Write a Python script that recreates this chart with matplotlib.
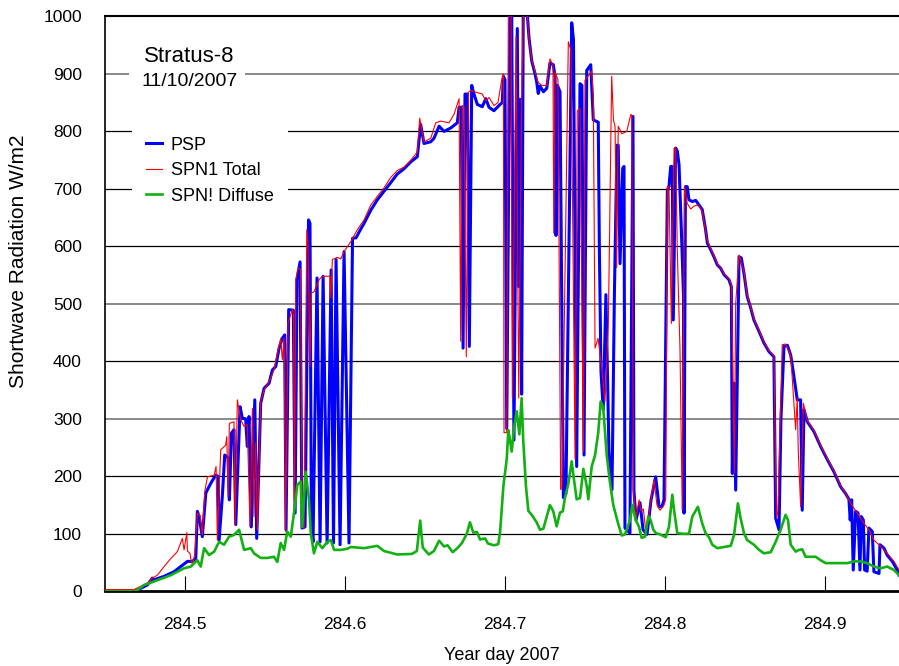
import matplotlib
matplotlib.use('Agg')
import matplotlib.pyplot as plt
from matplotlib.patches import Rectangle

plt.rcParams['font.family'] = ['Liberation Sans', 'DejaVu Sans']

# PSP (blue)
psp_day = [284.4500, 284.4683, 284.4704, 284.4766, 284.4798, 284.4808, 284.4871, 284.4933, 284.4975, 284.5017,
           284.5048, 284.5069, 284.5079, 284.5090, 284.5110, 284.5132, 284.5163, 284.5194, 284.5209, 284.5215,
           284.5235, 284.5250, 284.5271, 284.5279, 284.5292, 284.5308, 284.5319, 284.5346, 284.5360, 284.5381,
           284.5391, 284.5402, 284.5416, 284.5438, 284.5450, 284.5475, 284.5496, 284.5527, 284.5548, 284.5569,
           284.5590, 284.5610, 284.5625, 284.5633, 284.5650, 284.5679, 284.5690, 284.5702, 284.5721, 284.5733,
           284.5752, 284.5774, 284.5783, 284.5792, 284.5802, 284.5827, 284.5846, 284.5865, 284.5890, 284.5915,
           284.5930, 284.5946, 284.5971, 284.5996, 284.6027, 284.6049, 284.6071, 284.6096, 284.6121, 284.6163,
           284.6204, 284.6246, 284.6288, 284.6329, 284.6371, 284.6413, 284.6454, 284.6467, 284.6475, 284.6496,
           284.6538, 284.6558, 284.6590, 284.6621, 284.6663, 284.6704, 284.6715, 284.6729, 284.6740, 284.6752,
           284.6767, 284.6779, 284.6794, 284.6808, 284.6829, 284.6860, 284.6882, 284.6902, 284.6933, 284.6968,
           284.6985, 284.6992, 284.7002, 284.7013, 284.7033, 284.7044, 284.7058, 284.7079, 284.7088, 284.7096,
           284.7106, 284.7116, 284.7141, 284.7152, 284.7169, 284.7190, 284.7200, 284.7210, 284.7221, 284.7242,
           284.7263, 284.7283, 284.7304, 284.7315, 284.7321, 284.7330, 284.7346, 284.7367, 284.7383, 284.7419,
           284.7430, 284.7450, 284.7471, 284.7483, 284.7496, 284.7513, 284.7538, 284.7554, 284.7585, 284.7592,
           284.7602, 284.7616, 284.7633, 284.7652, 284.7671, 284.7686, 284.7702, 284.7710, 284.7721, 284.7738,
           284.7746, 284.7752, 284.7783, 284.7802, 284.7808, 284.7821, 284.7846, 284.7865, 284.7890, 284.7915,
           284.7944, 284.7965, 284.7983, 284.7996, 284.8017, 284.8027, 284.8038, 284.8048, 284.8054, 284.8069,
           284.8079, 284.8090, 284.8108, 284.8118, 284.8121, 284.8130, 284.8141, 284.8152, 284.8173, 284.8194,
           284.8215, 284.8235, 284.8256, 284.8267, 284.8288, 284.8308, 284.8329, 284.8350, 284.8371, 284.8402,
           284.8417, 284.8423, 284.8434, 284.8444, 284.8465, 284.8479, 284.8496, 284.8516, 284.8538, 284.8558,
           284.8590, 284.8621, 284.8652, 284.8683, 284.8694, 284.8715, 284.8727, 284.8746, 284.8767, 284.8788,
           284.8808, 284.8829, 284.8850, 284.8860, 284.8871, 284.8892, 284.8933, 284.8975, 284.9017, 284.9058,
           284.9100, 284.9131, 284.9152, 284.9160, 284.9169, 284.9179, 284.9194, 284.9209, 284.9221, 284.9229,
           284.9242, 284.9250, 284.9266, 284.9277, 284.9298, 284.9308, 284.9340, 284.9346, 284.9371, 284.9391,
           284.9423, 284.9454, 284.9465]
psp_wm2 = [0, 0, 2, 11, 23, 20, 26, 34, 43, 52,
           52, 57, 139, 130, 95, 171, 188, 202, 200, 89,
           165, 237, 232, 159, 275, 281, 116, 321, 301, 300,
           252, 304, 112, 333, 92, 327, 353, 362, 385, 391,
           423, 440, 446, 107, 490, 489, 136, 542, 573, 110,
           112, 646, 640, 112, 86, 545, 86, 548, 84, 559,
           84, 577, 81, 591, 84, 614, 615, 628, 640, 663,
           681, 696, 711, 726, 735, 747, 756, 790, 812, 779,
           782, 788, 809, 800, 806, 815, 842, 842, 423, 865,
           865, 426, 880, 865, 847, 843, 857, 842, 836, 846,
           850, 896, 890, 283, 1005, 1005, 263, 979, 530, 856,
           343, 1005, 1005, 963, 923, 900, 886, 866, 879, 869,
           875, 919, 916, 896, 619, 880, 869, 163, 170, 989,
           960, 217, 883, 880, 237, 906, 916, 820, 816, 596,
           383, 316, 516, 243, 177, 518, 776, 776, 570, 736,
           739, 110, 101, 826, 176, 124, 154, 107, 99, 159,
           199, 147, 147, 159, 698, 704, 739, 739, 472, 771,
           766, 742, 600, 513, 136, 704, 704, 681, 678, 680,
           672, 664, 629, 606, 594, 582, 568, 562, 551, 542,
           530, 205, 362, 176, 582, 580, 553, 513, 493, 472,
           452, 432, 417, 408, 127, 107, 300, 426, 428, 411,
           374, 333, 333, 141, 316, 295, 278, 252, 229, 208,
           182, 170, 160, 124, 159, 37, 139, 136, 37, 130,
           124, 37, 35, 110, 104, 34, 31, 81, 75, 63,
           52, 37, 28]

# SPN1 total (red)
spn1_day = [284.4500, 284.4683, 284.4766, 284.4798, 284.4829, 284.4871, 284.4913, 284.4954, 284.4985, 284.4996,
            284.5013, 284.5017, 284.5033, 284.5042, 284.5054, 284.5063, 284.5079, 284.5096, 284.5110, 284.5125,
            284.5142, 284.5184, 284.5196, 284.5204, 284.5225, 284.5256, 284.5263, 284.5271, 284.5279, 284.5308,
            284.5315, 284.5329, 284.5350, 284.5371, 284.5391, 284.5408, 284.5423, 284.5433, 284.5444, 284.5454,
            284.5475, 284.5496, 284.5538, 284.5558, 284.5579, 284.5600, 284.5610, 284.5621, 284.5631, 284.5646,
            284.5673, 284.5680, 284.5686, 284.5694, 284.5708, 284.5724, 284.5735, 284.5746, 284.5763, 284.5771,
            284.5783, 284.5792, 284.5808, 284.5840, 284.5860, 284.5908, 284.5913, 284.5923, 284.5954, 284.5975,
            284.5996, 284.6038, 284.6079, 284.6121, 284.6163, 284.6204, 284.6246, 284.6288, 284.6329, 284.6371,
            284.6413, 284.6454, 284.6469, 284.6496, 284.6538, 284.6569, 284.6600, 284.6652, 284.6684, 284.6715,
            284.6725, 284.6735, 284.6746, 284.6760, 284.6773, 284.6788, 284.6860, 284.6882, 284.6902, 284.6933,
            284.6958, 284.6981, 284.6992, 284.6996, 284.7013, 284.7023, 284.7040, 284.7048, 284.7071, 284.7088,
            284.7106, 284.7116, 284.7141, 284.7152, 284.7169, 284.7190, 284.7210, 284.7233, 284.7263, 284.7283,
            284.7302, 284.7307, 284.7315, 284.7333, 284.7350, 284.7358, 284.7398, 284.7415, 284.7440, 284.7454,
            284.7471, 284.7492, 284.7502, 284.7533, 284.7544, 284.7554, 284.7565, 284.7584, 284.7606, 284.7627,
            284.7648, 284.7669, 284.7680, 284.7690, 284.7700, 284.7710, 284.7732, 284.7763, 284.7788, 284.7794,
            284.7805, 284.7819, 284.7840, 284.7852, 284.7867, 284.7880, 284.7896, 284.7915, 284.7933, 284.7952,
            284.7971, 284.7996, 284.8007, 284.8017, 284.8027, 284.8042, 284.8059, 284.8069, 284.8079, 284.8096,
            284.8110, 284.8124, 284.8141, 284.8163, 284.8183, 284.8204, 284.8221, 284.8235, 284.8256, 284.8267,
            284.8288, 284.8308, 284.8329, 284.8350, 284.8371, 284.8402, 284.8418, 284.8426, 284.8436, 284.8444,
            284.8465, 284.8496, 284.8516, 284.8538, 284.8558, 284.8590, 284.8621, 284.8652, 284.8683, 284.8699,
            284.8708, 284.8735, 284.8756, 284.8788, 284.8819, 284.8829, 284.8835, 284.8850, 284.8867, 284.8892,
            284.8933, 284.8975, 284.9017, 284.9058, 284.9100, 284.9131, 284.9163, 284.9204, 284.9246, 284.9277,
            284.9308, 284.9340, 284.9391, 284.9434, 284.9465]
spn1_wm2 = [3, 3, 14, 23, 28, 43, 57, 69, 92, 72,
            102, 70, 66, 49, 52, 66, 136, 132, 98, 173,
            199, 202, 217, 89, 246, 254, 269, 165, 292, 295,
            116, 333, 298, 287, 290, 112, 318, 130, 258, 107,
            330, 350, 371, 385, 414, 440, 403, 440, 104, 467,
            490, 480, 140, 542, 562, 560, 112, 110, 629, 600,
            391, 519, 521, 542, 548, 548, 510, 577, 581, 578,
            591, 608, 629, 646, 672, 687, 702, 720, 732, 738,
            750, 764, 823, 782, 788, 815, 818, 815, 830, 857,
            435, 845, 844, 408, 868, 871, 865, 853, 859, 845,
            850, 889, 900, 276, 276, 1005, 1005, 336, 966, 336,
            855, 1005, 1005, 960, 925, 905, 885, 880, 880, 926,
            915, 623, 903, 890, 177, 180, 956, 940, 230, 836,
            840, 243, 889, 900, 905, 860, 423, 440, 390, 330,
            463, 896, 820, 809, 563, 809, 796, 800, 829, 829,
            176, 124, 159, 140, 143, 110, 120, 160, 194, 150,
            141, 150, 160, 704, 704, 466, 771, 771, 594, 420,
            141, 704, 675, 665, 670, 672, 668, 660, 628, 610,
            596, 584, 570, 563, 553, 544, 533, 374, 205, 500,
            585, 556, 515, 495, 474, 454, 434, 419, 410, 127,
            140, 429, 430, 411, 281, 336, 246, 147, 327, 297,
            280, 254, 231, 210, 184, 170, 153, 136, 118, 107,
            89, 81, 66, 52, 37]

# SPN1 diffuse (green)
diffuse_day = [284.4500, 284.4683, 284.4704, 284.4746, 284.4808, 284.4913, 284.4996, 284.5038, 284.5079, 284.5100,
               284.5121, 284.5152, 284.5184, 284.5215, 284.5246, 284.5277, 284.5308, 284.5340, 284.5371, 284.5413,
               284.5433, 284.5475, 284.5516, 284.5558, 284.5579, 284.5600, 284.5621, 284.5641, 284.5663, 284.5683,
               284.5704, 284.5725, 284.5735, 284.5756, 284.5777, 284.5788, 284.5808, 284.5829, 284.5860, 284.5892,
               284.5913, 284.5934, 284.5975, 284.6017, 284.6038, 284.6121, 284.6204, 284.6246, 284.6329, 284.6420,
               284.6451, 284.6472, 284.6488, 284.6526, 284.6558, 284.6590, 284.6621, 284.6643, 284.6675, 284.6704,
               284.6733, 284.6763, 284.6783, 284.6804, 284.6827, 284.6846, 284.6877, 284.6896, 284.6933, 284.6960,
               284.6971, 284.6992, 284.7013, 284.7023, 284.7033, 284.7044, 284.7058, 284.7075, 284.7092, 284.7106,
               284.7116, 284.7133, 284.7148, 284.7169, 284.7200, 284.7221, 284.7242, 284.7263, 284.7283, 284.7304,
               284.7325, 284.7346, 284.7363, 284.7377, 284.7398, 284.7419, 284.7429, 284.7450, 284.7471, 284.7492,
               284.7513, 284.7523, 284.7544, 284.7565, 284.7585, 284.7600, 284.7616, 284.7638, 284.7658, 284.7679,
               284.7710, 284.7732, 284.7752, 284.7783, 284.7798, 284.7819, 284.7840, 284.7856, 284.7877, 284.7898,
               284.7912, 284.7929, 284.7946, 284.7971, 284.8007, 284.8027, 284.8048, 284.8059, 284.8079, 284.8121,
               284.8152, 284.8173, 284.8208, 284.8235, 284.8256, 284.8277, 284.8298, 284.8329, 284.8371, 284.8413,
               284.8434, 284.8458, 284.8475, 284.8496, 284.8516, 284.8558, 284.8590, 284.8621, 284.8663, 284.8694,
               284.8725, 284.8756, 284.8771, 284.8788, 284.8819, 284.8840, 284.8860, 284.8881, 284.8944, 284.8975,
               284.9006, 284.9142, 284.9184, 284.9225, 284.9266, 284.9308, 284.9350, 284.9391, 284.9434, 284.9465]
diffuse_wm2 = [0, 0, 2, 11, 17, 28, 40, 43, 54, 43,
               75, 63, 69, 86, 81, 95, 98, 107, 72, 75,
               66, 58, 58, 60, 51, 84, 72, 104, 95, 136,
               185, 191, 112, 208, 159, 101, 66, 86, 75, 86,
               89, 72, 72, 74, 77, 75, 79, 70, 64, 65,
               70, 123, 76, 64, 70, 88, 78, 80, 68, 75,
               84, 100, 120, 102, 103, 90, 92, 83, 80, 82,
               102, 183, 230, 280, 263, 243, 283, 313, 273, 336,
               263, 183, 140, 133, 120, 107, 109, 130, 150, 139,
               113, 137, 139, 163, 187, 226, 203, 160, 162, 213,
               183, 160, 217, 237, 276, 330, 320, 237, 190, 150,
               117, 97, 99, 123, 150, 124, 112, 93, 95, 130,
               124, 107, 101, 99, 94, 112, 168, 141, 101, 100,
               100, 130, 147, 118, 101, 94, 81, 75, 77, 79,
               98, 153, 127, 101, 89, 81, 72, 66, 68, 86,
               107, 133, 124, 81, 69, 72, 73, 60, 60, 54,
               49, 49, 52, 52, 49, 43, 40, 43, 37, 28]

yticks = [0, 100, 200, 300, 400, 500, 600, 700, 800, 900, 1000]
xticks = [284.5, 284.6, 284.7, 284.8, 284.9]

fig = plt.figure(figsize=(8.99, 6.66), dpi=100)
ax = fig.add_axes([0.1165, 0.1122, 0.8835, 0.8631])

# horizontal grid, some lines render grey in the original
grey_lines = [300, 500, 900]
for v in yticks[1:-1]:
    if v in grey_lines:
        ax.axhline(v, color='#808080', lw=1.3, zorder=1)
    else:
        ax.axhline(v, color='black', lw=0.9, zorder=1)

ax.plot(psp_day, psp_wm2, color='#0000ff', lw=2.2, label='PSP', zorder=3)
ax.plot(spn1_day, spn1_wm2, color='#ff0000', lw=0.8, label='SPN1 Total', zorder=4)
ax.plot(diffuse_day, diffuse_wm2, color='#12b012', lw=1.9, label='SPN! Diffuse', zorder=5)

ax.set_xlim(284.45, 284.9465)
ax.set_ylim(0, 1000)
ax.set_xticks(xticks)
ax.set_xticklabels(['284.5', '284.6', '284.7', '284.8', '284.9'])
ax.set_yticks(yticks)
ax.tick_params(axis='x', direction='in', length=10.8, width=0.8, pad=18.5, labelsize=12.5)
ax.tick_params(axis='y', length=0, pad=16.5, labelsize=12.5)
for i in [1, 4]:
    ax.xaxis.get_major_ticks()[i].tick1line.set_color('#808080')

ax.spines['right'].set_visible(False)
ax.spines['top'].set_linewidth(1.5)
ax.spines['bottom'].set_linewidth(2)
ax.spines['left'].set_linewidth(1.2)

ax.set_xlabel('Year day 2007', fontsize=13, labelpad=11)
ax.set_ylabel('Shortwave Radiation W/m2', fontsize=15)
ax.yaxis.set_label_coords(-0.0966, 0.575)

leg = ax.legend(loc='upper left', bbox_to_anchor=(0.0344, 0.8154), borderaxespad=0,
                borderpad=0.78, fontsize=13, frameon=True, fancybox=False,
                handlelength=0.89, handletextpad=0.48, labelspacing=0.47)
leg.get_frame().set_facecolor('white')
leg.get_frame().set_edgecolor('none')
leg.get_frame().set_alpha(1)

ax.add_patch(Rectangle((0.0306, 0.8547), 0.146, 0.1044, transform=ax.transAxes,
                       facecolor='white', edgecolor='none', zorder=2))
ax.text(0.1061, 0.9296, 'Stratus-8', transform=ax.transAxes, ha='center', va='center',
        fontsize=16, zorder=6)
ax.text(0.1074, 0.886, '11/10/2007', transform=ax.transAxes, ha='center', va='center',
        fontsize=14, zorder=6)

fig.savefig('out.png', dpi=100)
